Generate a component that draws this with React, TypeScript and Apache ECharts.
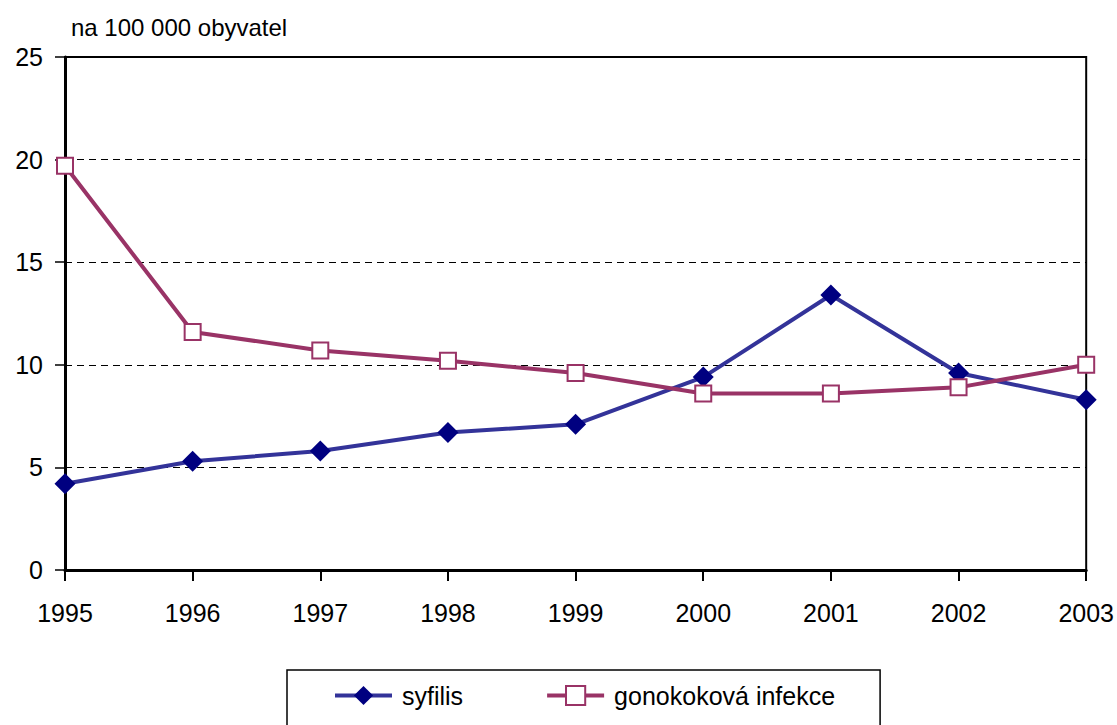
import React, { useEffect, useRef } from "react";
import * as echarts from "echarts";

const years = ["1995", "1996", "1997", "1998", "1999", "2000", "2001", "2002", "2003"];
const syfilis = [4.2, 5.3, 5.8, 6.7, 7.1, 9.4, 13.4, 9.6, 8.3];
const gonokokova = [19.7, 11.6, 10.7, 10.2, 9.6, 8.6, 8.6, 8.9, 10.0];
const unitLabel = "na 100 000 obyvatel";
const seriesNames = ["syfilis", "gonokoková infekce"];

const FONT = "'Liberation Sans', Arial, sans-serif";

export default function App() {
  const ref = useRef<HTMLDivElement>(null);
  useEffect(() => {
    if (!ref.current) return;
    const chart = echarts.init(ref.current, null, { renderer: "svg" });
    chart.setOption({
      animation: false,
      backgroundColor: "#fff",
      textStyle: { fontFamily: FONT, color: "#000" },
      title: {
        text: unitLabel,
        left: 71,
        top: 15,
        padding: 0,
        textStyle: { fontFamily: FONT, fontSize: 24, fontWeight: "normal", color: "#000" },
      },
      grid: {
        left: 65,
        right: 29,
        top: 57,
        bottom: 155,
        show: true,
        borderColor: "#000",
        borderWidth: 2,
        backgroundColor: "transparent",
      },
      legend: {
        left: 287,
        top: 670,
        padding: [13, 45, 40, 46],
        borderColor: "#000",
        borderWidth: 1.5,
        itemWidth: 57,
        itemHeight: 24,
        itemGap: 82,
        lineStyle: { width: 4 },
        textStyle: { fontFamily: FONT, fontSize: 25, color: "#000", padding: [0, 0, 0, 5] },
        data: seriesNames,
      },
      xAxis: {
        type: "category",
        data: years,
        boundaryGap: false,
        axisLine: { lineStyle: { color: "#000", width: 3 } },
        axisTick: { show: true, length: 11, lineStyle: { color: "#000", width: 2 } },
        axisLabel: { fontFamily: FONT, fontSize: 25, color: "#000", margin: 30 },
        splitLine: { show: false },
      },
      yAxis: {
        type: "value",
        min: 0,
        max: 25,
        interval: 5,
        axisLine: { show: true, lineStyle: { color: "#000", width: 3 } },
        axisTick: { show: true, length: 10, lineStyle: { color: "#000", width: 1.5 } },
        axisLabel: { fontFamily: FONT, fontSize: 25, color: "#000", margin: 22 },
        splitLine: { show: true, lineStyle: { color: "#000", width: 1, type: [7, 5] } },
      },
      series: [
        {
          name: seriesNames[0],
          type: "line",
          data: syfilis,
          symbol: "diamond",
          symbolSize: 21,
          lineStyle: { color: "#333399", width: 4 },
          itemStyle: { color: "#000080", borderWidth: 0 },
          z: 3,
        },
        {
          name: seriesNames[1],
          type: "line",
          data: gonokokova,
          symbol: "rect",
          symbolSize: 16,
          lineStyle: { color: "#993366", width: 4 },
          itemStyle: { color: "#fff", borderColor: "#993366", borderWidth: 2 },
          z: 4,
        },
      ],
    });
    return () => chart.dispose();
  }, []);
  return (
    <div
      ref={ref}
      style={{ position: "absolute", left: 0, top: 0, width: 1117, height: 725 }}
    />
  );
}
